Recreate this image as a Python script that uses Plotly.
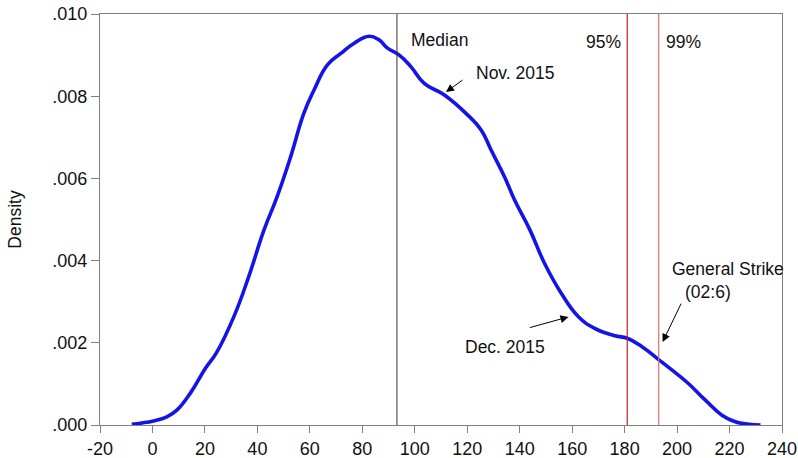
import plotly.graph_objects as go

# Density curve
x_vals = [-7.9, -4, 0.4, 5.5, 9.3, 14.4, 20.2, 24.6, 31.0, 36.7, 42.5, 47.5, 52.7, 57.7,
          61.6, 66.7, 71.8, 76.9, 82.6, 86.4, 89.6, 94.1, 98.5, 103.6, 111.3, 120.2,
          125.3, 129.1, 134.2, 138.1, 143.8, 149.5, 155.9, 162.3, 168.6, 176.3, 181.0,
          186.5, 193.2, 198.0, 204.3, 210.7, 217.1, 222.2, 227.3, 231.8]
density = [0.00002, 0.00005, 0.0001, 0.0002, 0.00036, 0.00077, 0.00138, 0.00178, 0.00263,
           0.00361, 0.00474, 0.00555, 0.00653, 0.00758, 0.00815, 0.00876, 0.00904,
           0.00929, 0.00946, 0.00937, 0.00917, 0.00900, 0.00872, 0.00831, 0.00803,
           0.00754, 0.00718, 0.00669, 0.00604, 0.00547, 0.00476, 0.00393, 0.00320,
           0.00264, 0.00235, 0.00217, 0.00211, 0.00191, 0.00158, 0.00134, 0.00101,
           0.00061, 0.00024, 0.00008, 0.00002, 0.0]

x_ticks = [-20, 0, 20, 40, 60, 80, 100, 120, 140, 160, 180, 200, 220, 240]
x_tick_labels = ["-20", "0", "20", "40", "60", "80", "100", "120", "140", "160", "180",
                 "200", "220", "240"]
y_ticks = [0.0, 0.002, 0.004, 0.006, 0.008, 0.010]
y_tick_labels = [".000", ".002", ".004", ".006", ".008", ".010"]

median_x = 93.2
p95_x = 181.0
p99_x = 193.0

FONT = "Liberation Sans, Arial, sans-serif"
AX = "#808080"

fig = go.Figure()
fig.add_trace(go.Scatter(x=x_vals, y=density, mode="lines",
                         line=dict(color="#1414e6", width=3.6, shape="spline", smoothing=1.3),
                         showlegend=False, hoverinfo="skip"))

fig.add_shape(type="line", xref="x", yref="paper", x0=median_x, x1=median_x, y0=0, y1=1,
              line=dict(color="#333333", width=1))
fig.add_shape(type="line", xref="x", yref="paper", x0=p95_x, x1=p95_x, y0=0, y1=1,
              line=dict(color="#c42020", width=1.2))
fig.add_shape(type="line", xref="x", yref="paper", x0=p99_x, x1=p99_x, y0=0, y1=1,
              line=dict(color="#e07070", width=1.2))

tf = dict(family=FONT, size=17.5, color="#111111")
ann = [
    dict(x=97.8, y=0.00937, text="Median", showarrow=False, xanchor="left", yanchor="middle", font=tf),
    dict(x=179.2, y=0.00932, text="95%", showarrow=False, xanchor="right", yanchor="middle", font=tf),
    dict(x=194.9, y=0.00932, text="99%", showarrow=False, xanchor="left", yanchor="middle", font=tf),
    dict(x=138.3, y=0.00856, text="Nov. 2015", showarrow=False, font=tf),
    dict(x=134.5, y=0.00190, text="Dec. 2015", showarrow=False, font=tf),
    dict(x=219.4, y=0.00380, text="General Strike", showarrow=False, font=tf),
    dict(x=211.7, y=0.00324, text="(02:6)", showarrow=False, font=tf),
    # arrows
    dict(x=111.9, y=0.00810, ax=118.8, ay=0.00842, axref="x", ayref="y", text="",
         showarrow=True, arrowhead=2, arrowsize=1.6, arrowwidth=1, arrowcolor="#000000"),
    dict(x=158.6, y=0.00263, ax=143.3, ay=0.00236, axref="x", ayref="y", text="",
         showarrow=True, arrowhead=2, arrowsize=1.6, arrowwidth=1, arrowcolor="#000000"),
    dict(x=194.5, y=0.00202, ax=201.8, ay=0.00299, axref="x", ayref="y", text="",
         showarrow=True, arrowhead=2, arrowsize=1.6, arrowwidth=1, arrowcolor="#000000"),
]
fig.update_layout(annotations=ann)

fig.update_layout(
    width=798, height=458,
    margin=dict(l=100, r=16, t=14, b=33, autoexpand=False),
    paper_bgcolor="white", plot_bgcolor="white",
    font=dict(family=FONT, size=17, color="#111111"),
    xaxis=dict(range=[-20, 240], tickvals=x_ticks, ticktext=x_tick_labels, showgrid=False,
               zeroline=False, automargin=False,
               showline=True, linecolor=AX, linewidth=1.3, mirror=True,
               ticks="outside", ticklen=7, tickcolor=AX, tickfont=dict(size=18)),
    yaxis=dict(range=[0, 0.010], tickvals=y_ticks, ticktext=y_tick_labels, showgrid=False,
               zeroline=False, automargin=False, showline=True, linecolor=AX, linewidth=1.3,
               mirror=True, ticks="outside", ticklen=8, tickcolor=AX, tickfont=dict(size=18),
               title=dict(text="Density", font=dict(size=17.5), standoff=26)),
)

fig.write_html("out.html")
